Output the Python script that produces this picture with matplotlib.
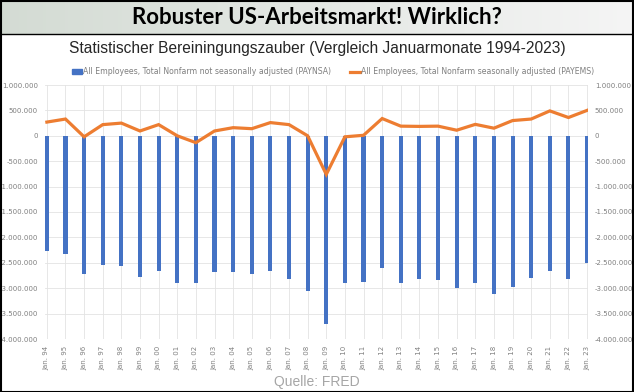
import numpy as np
import matplotlib
matplotlib.use("Agg")
import matplotlib.pyplot as plt
from matplotlib.patches import Patch, Rectangle
from matplotlib.lines import Line2D
from matplotlib.ticker import FuncFormatter

# Daten (Januar-Veränderung)
jahre = ["94", "95", "96", "97", "98", "99", "00", "01", "02", "03", "04", "05", "06", "07", "08",
         "09", "10", "11", "12", "13", "14", "15", "16", "17", "18", "19", "20", "21", "22", "23"]
paynsa = [-2270000, -2320000, -2720000, -2550000, -2560000, -2770000, -2660000, -2890000, -2900000,
          -2690000, -2690000, -2730000, -2670000, -2820000, -3050000, -3700000, -2890000, -2880000,
          -2610000, -2900000, -2820000, -2830000, -3000000, -2900000, -3120000, -2970000, -2800000,
          -2660000, -2820000, -2510000]
payems = [270000, 330000, -20000, 220000, 250000, 95000, 220000, 0, -135000, 95000, 160000, 140000,
          260000, 220000, 0, -760000, -20000, 10000, 340000, 190000, 185000, 190000, 110000, 225000,
          150000, 300000, 330000, 490000, 360000, 500000]

labels = ["Jan. " + j for j in jahre]
titel = "Robuster US-Arbeitsmarkt! Wirklich?"
untertitel = "Statistischer Bereiningungszauber (Vergleich Januarmonate 1994-2023)"
name_nsa = "All Employees, Total Nonfarm not seasonally adjusted (PAYNSA)"
name_sa = "All Employees, Total Nonfarm seasonally adjusted (PAYEMS)"

blau = "#4472C4"
orange = "#ED7D31"
grau = "#7f7f7f"

W, H = 634, 392
fig = plt.figure(figsize=(W / 100, H / 100), dpi=100)
fig.patch.set_facecolor("white")

# Kopfzeile mit Verlauf
kopf = fig.add_axes([0, 1 - 34 / H, 1, 34 / H])
verlauf = np.linspace(0, 1, 256)
links = np.array([0.83, 0.86, 0.83])
rechts = np.array([0.96, 0.96, 0.96])
bild = links[None, :] * (1 - verlauf[:, None]) + rechts[None, :] * verlauf[:, None]
kopf.imshow(bild[None, :, :], aspect="auto", extent=[0, 1, 0, 1])
kopf.set_xlim(0, 1)
kopf.set_ylim(0, 1)
kopf.axis("off")
kopf.text(0.5, 0.5, titel, ha="center", va="center", fontsize=16, fontweight="bold",
          family="Lato", color="black")

# Diagramm
ax = fig.add_axes([45 / W, 1 - 339 / H, 543 / W, 254 / H])
x = np.arange(len(jahre))
ax.bar(x, paynsa, width=0.22, color=blau, zorder=2)
ax.plot(x, payems, color=orange, lw=2.3, zorder=3, solid_joinstyle="miter")

ax.set_xlim(-0.1, len(jahre) - 0.95)
ax.set_ylim(-4000000, 1000000)
ax.set_yticks(np.arange(-4000000, 1000001, 500000))
ax.yaxis.set_major_formatter(FuncFormatter(lambda v, p: f"{int(v):,}".replace(",", ".")))
ax.set_xticks(x)
ax.set_xticklabels(labels, rotation=90)
ax.tick_params(axis="both", length=0, labelsize=5, labelcolor=grau)
ax.tick_params(axis="y", labelleft=True, labelright=True, pad=5)
ax.tick_params(axis="x", pad=5)
ax.grid(True, color="#e3e3e3", lw=0.6, zorder=0)
ax.set_axisbelow(True)
for s in ax.spines.values():
    s.set_visible(False)

fig.text(0.5, 1 - 49 / H, untertitel, ha="center", va="center", fontsize=11.2,
         family="Liberation Sans", color="#262626")

griffe = [Patch(facecolor=blau, edgecolor=blau), Line2D([0], [0], color=orange, lw=2.3)]
leg = fig.legend(griffe, [name_nsa, name_sa], loc="center", bbox_to_anchor=(333 / W, 1 - 72 / H),
                 ncol=2, frameon=False, fontsize=5.6, handlelength=1.3, handleheight=0.6,
                 handletextpad=0.1, columnspacing=2.4, labelcolor=grau)

fig.text(0.5, 1 - 382 / H, "Quelle: FRED", ha="center", va="center", fontsize=10,
         family="Liberation Sans", color="#a6a6a6")

# Rahmen
fig.add_artist(Rectangle((0.5 / W, 0.5 / H), 1 - 1.5 / W, 1 - 1.5 / H, transform=fig.transFigure,
                         fill=False, edgecolor="black", lw=1.5))
fig.add_artist(Line2D([0, 1], [1 - 34 / H, 1 - 34 / H], transform=fig.transFigure,
                      color="black", lw=1.0))

fig.savefig("out.png", dpi=100)
